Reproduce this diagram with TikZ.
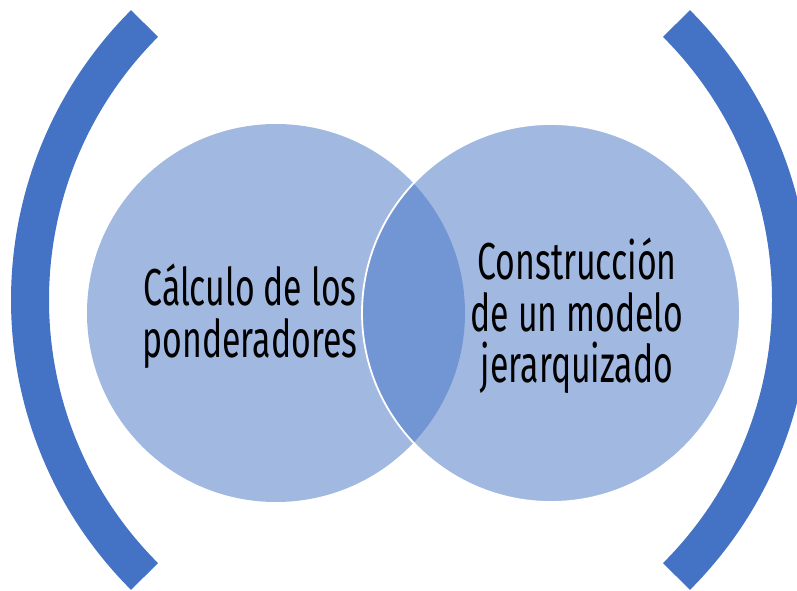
\documentclass[tikz,border=0pt]{standalone}
\usepackage{fontspec}
\setmainfont{Fira Sans}[FakeStretch=0.65]
\definecolor{accent}{HTML}{4472C4}
\begin{document}
\begin{tikzpicture}[x=1pt,y=-1pt,
  bracket/.style={draw=accent,line width=38pt,line cap=butt},
  venn/.style={circle,minimum size=378pt,inner sep=0pt,fill=accent,fill opacity=0.5},
  label/.style={align=center,text=black,font=\fontsize{52}{51.5}\selectfont,text opacity=1}]
\useasboundingbox (0,0) rectangle (797,591);
\node[venn] (L) at (276,313) {};
\node[venn,draw=white,line width=1.8pt,draw opacity=1] (R) at (551,313) {};
\draw[bracket] (421,300) ++(135:391) arc[start angle=135,end angle=225,radius=391];
\draw[bracket] (400,300) ++(-45:391) arc[start angle=-45,end angle=45,radius=391];
\node[label] (tl) at (250,316) {Cálculo de los\\ponderadores};
\node[label] (tr) at (577,316) {Construcción\\de un modelo\\jerarquizado};
\end{tikzpicture}
\end{document}
